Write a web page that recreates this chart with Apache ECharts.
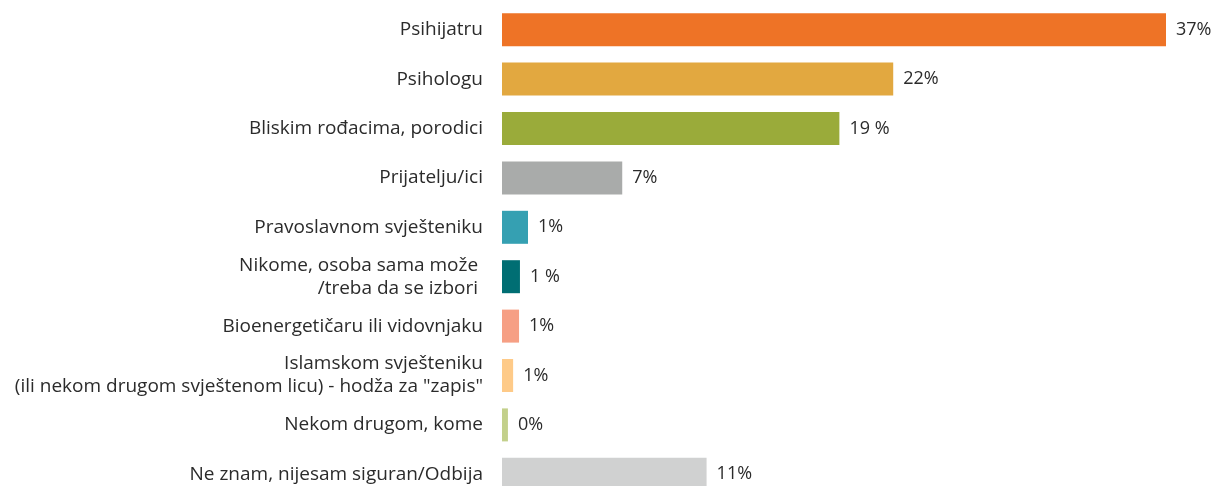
<!DOCTYPE html>
<html>
<head>
<meta charset="utf-8">
<script src="https://cdn.jsdelivr.net/npm/echarts@6/dist/echarts.min.js"></script>
<style>
  html, body { margin: 0; padding: 0; background: #fff; }
  #chart { width: 1216px; height: 486px; }
</style>
</head>
<body>
<div id="chart"></div>
<script>
// kategorije, odozgo prema dolje
var categories = [
  "Psihijatru",
  "Psihologu",
  "Bliskim rođacima, porodici",
  "Prijatelju/ici",
  "Pravoslavnom svješteniku",
  "Nikome, osoba sama može \n/treba da se izbori ",
  "Bioenergetičaru ili vidovnjaku",
  "Islamskom svješteniku\n(ili nekom drugom svještenom licu) - hodža za \"zapis\"",
  "Nekom drugom, kome",
  "Ne znam, nijesam siguran/Odbija"
];
var values = [37, 21.8, 18.8, 6.7, 1.45, 1.0, 0.95, 0.62, 0.33, 11.4];
var valueLabels = ["37%", "22%", "19 %", "7%", "1%", "1 %", "1%", "1%", "0%", "11%"];
var colors = ["#ee7326", "#e2a840", "#9aab3a", "#a9abaa", "#35a0b2",
              "#006e73", "#f69f84", "#feca88", "#c3d08b", "#d0d1d1"];

var myChart = echarts.init(document.getElementById("chart"));

var option = {
  animation: false,
  grid: {
    left: 502, width: 664, top: 5, height: 494,
    containLabel: false, outerBoundsMode: "none"
  },
  xAxis: {
    type: "value",
    min: 0,
    max: 37,
    show: false
  },
  yAxis: {
    type: "category",
    inverse: true,
    data: categories,
    axisLine: { show: false },
    axisTick: { show: false },
    splitLine: { show: false },
    axisLabel: {
      margin: 19,
      color: "#2b2b2b",
      fontFamily: "Open Sans",
      fontSize: 19,
      lineHeight: 23,
      align: "right"
    }
  },
  series: [{
    type: "bar",
    barWidth: 33,
    data: values.map(function (v, i) {
      return { value: v, itemStyle: { color: colors[i] } };
    }),
    label: {
      show: true,
      position: "right",
      distance: 10,
      color: "#2b2b2b",
      fontFamily: "Open Sans",
      fontSize: 18,
      formatter: function (p) { return valueLabels[p.dataIndex]; }
    }
  }]
};

myChart.setOption(option);
</script>
</body>
</html>
